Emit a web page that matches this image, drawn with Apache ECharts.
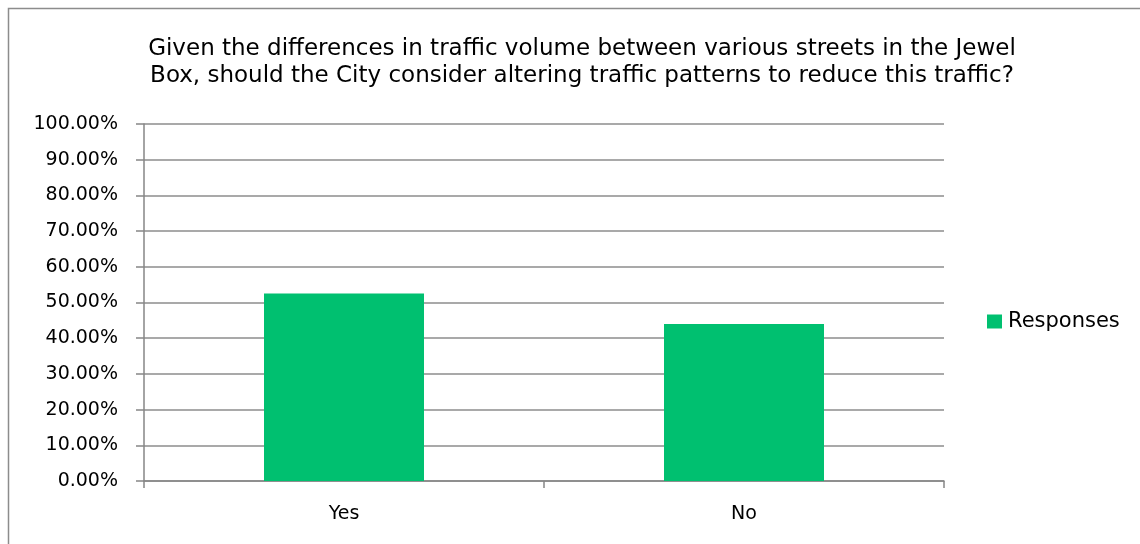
<!DOCTYPE html>
<html>
<head>
<meta charset="utf-8">
<script src="https://cdn.jsdelivr.net/npm/echarts@6/dist/echarts.min.js"></script>
<style>html,body{margin:0;padding:0;background:#fff;}#c{width:1140px;height:544px;}</style>
</head>
<body>
<div id="c"></div>
<script>
var titleText = 'Given the differences in traffic volume between various streets in the Jewel\nBox, should the City consider altering traffic patterns to reduce this traffic?';
var categories = ['Yes', 'No'];
var seriesName = 'Responses';
var responses = [52.5, 44.0];
var yMin = 0, yMax = 100, yStep = 10;

var chart = echarts.init(document.getElementById('c'));
chart.setOption({
  animation: false,
  backgroundColor: '#ffffff',
  graphic: [{
    type: 'rect', shape: {x: 8.5, y: 8.5, width: 1200, height: 600},
    style: {fill: 'none', stroke: '#8c8c8c', lineWidth: 1.5}, silent: true
  }],
  title: {
    text: titleText, left: 577, top: 31, textAlign: 'center',
    textStyle: {fontFamily: 'DejaVu Sans', fontSize: 23, fontWeight: 'normal', color: '#000', lineHeight: 27}
  },
  legend: {
    data: [seriesName], left: 987, top: 311, padding: 0, itemWidth: 15, itemHeight: 14, itemGap: 5,
    icon: 'rect',
    textStyle: {fontFamily: 'DejaVu Sans', fontSize: 21, color: '#000', padding: [0,0,0,1]}
  },
  grid: {left: 144, right: 196, top: 124, bottom: 63, containLabel: false},
  xAxis: {
    type: 'category', data: categories, boundaryGap: true,
    axisLine: {lineStyle: {color: '#868686', width: 1.5}},
    axisTick: {show: true, length: 7, alignWithLabel: false, lineStyle: {color: '#868686', width: 1.5}},
    axisLabel: {fontFamily: 'DejaVu Sans', fontSize: 19, color: '#000', margin: 24}
  },
  yAxis: {
    type: 'value', min: yMin, max: yMax, interval: yStep,
    axisLine: {show: true, lineStyle: {color: '#868686', width: 1.5}},
    axisTick: {show: true, inside: false, length: 8, lineStyle: {color: '#868686', width: 1.5}},
    splitLine: {lineStyle: {color: '#8c8c8c', width: 1.5}},
    axisLabel: {fontFamily: 'DejaVu Sans', fontSize: 19, color: '#000', margin: 26,
      formatter: function (v) { return v.toFixed(2) + '%'; }}
  },
  series: [{
    name: seriesName, type: 'bar', data: responses, barWidth: 160,
    itemStyle: {color: '#00c070'}
  }]
});
</script>
</body>
</html>
